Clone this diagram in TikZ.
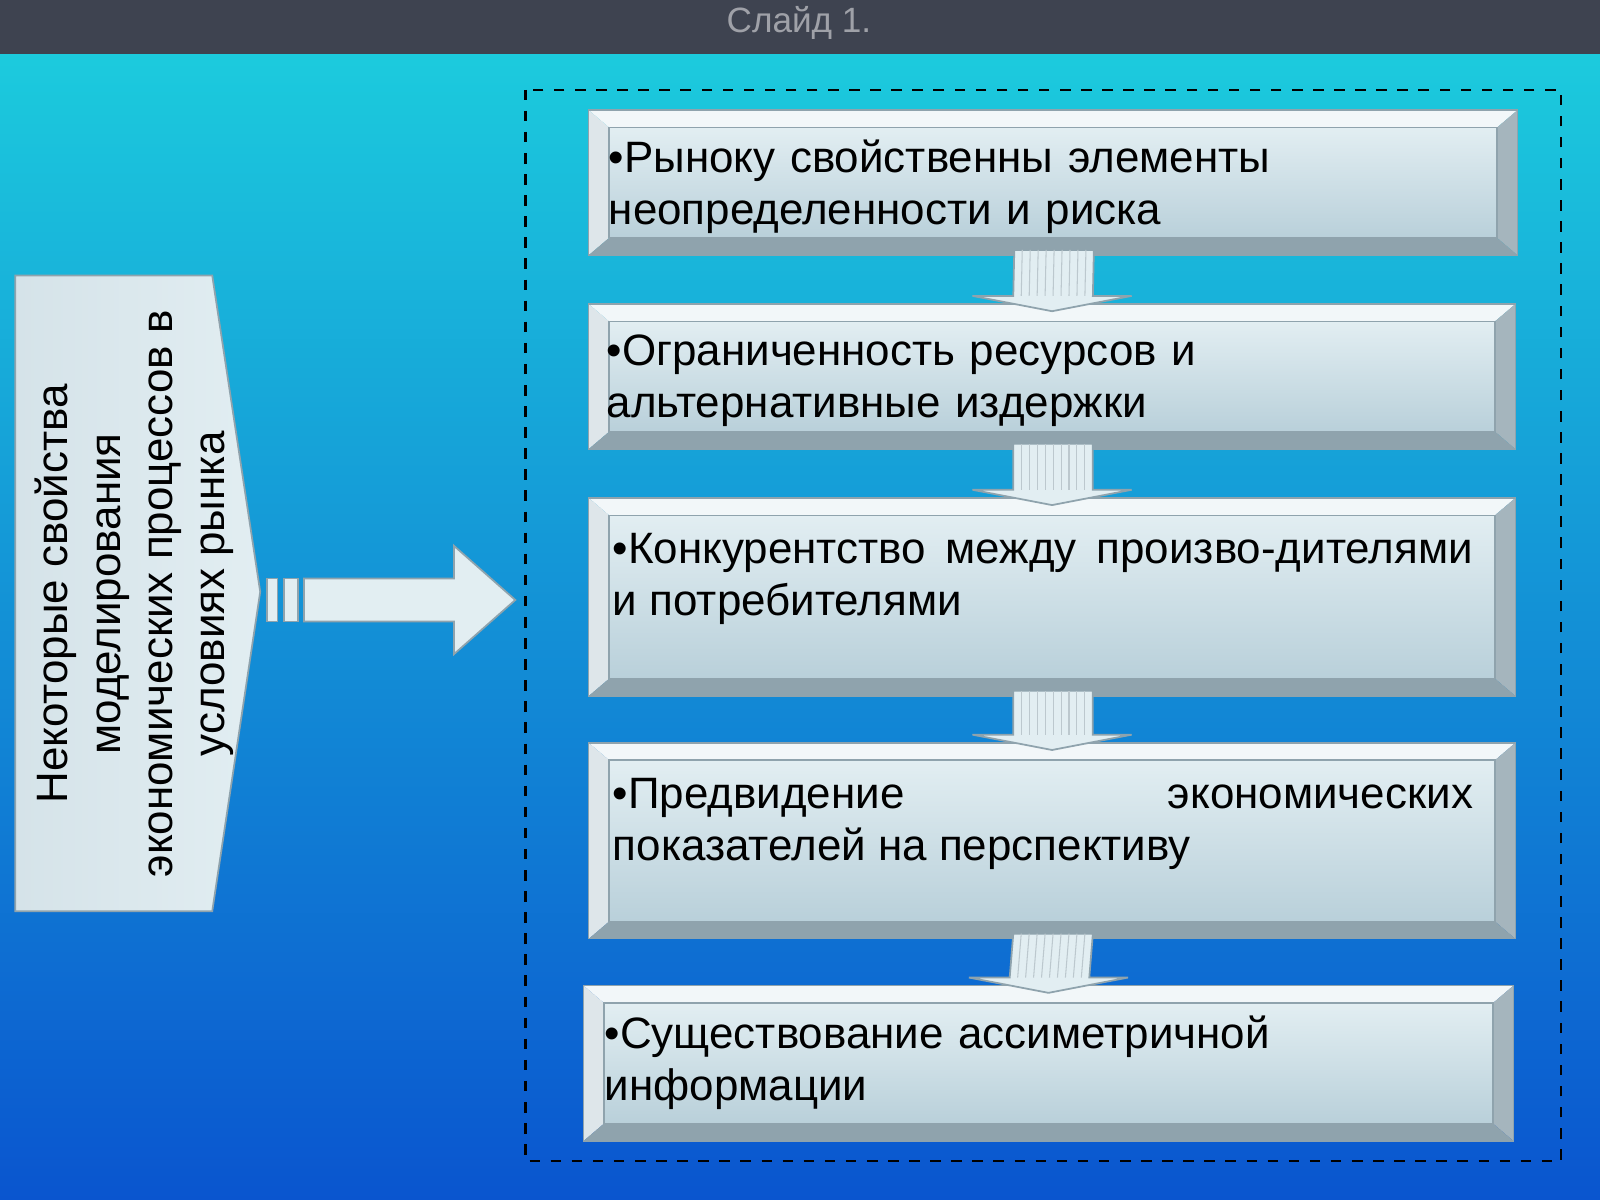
\documentclass[tikz,border=0pt]{standalone}
\usepackage{fontspec}
\setmainfont{Liberation Sans}
\usetikzlibrary{calc}

\definecolor{barcol}{HTML}{3E4350}
\definecolor{topcol}{HTML}{1CCBDD}
\definecolor{botcol}{HTML}{0A55CF}
\definecolor{facecol}{HTML}{E2EEF2}
\definecolor{facedark}{HTML}{B9D0DA}
\definecolor{rimlight}{HTML}{F2F7F9}
\definecolor{rimdark}{HTML}{8FA3AD}

\tikzset{
	boxtext/.style={text width=8.6cm, align=left, font=\fontsize{12.5}{14.9}\selectfont, inner sep=0pt},
	justtext/.style={boxtext, align=justify},
	downarr/.style={fill=facecol, draw=rimdark, line width=0.5pt},
}

% bevelled box: #1 name, #2 left x, #3 top y, #4 right x, #5 bottom y
\newcommand{\bevbox}[5]{
	\coordinate (#1-nw) at (#2,#3);
	\coordinate (#1-se) at (#4,#5);
	\coordinate (#1-inw) at ($(#2,#3)+(0.2,0.17)$);
	\coordinate (#1-ise) at ($(#4,#5)+(-0.2,-0.17)$);
	\fill[rimlight] (#1-nw) -- (#4,#3) -- (#1-ise |- #1-inw) -- (#1-inw) -- cycle;
	\fill[rimlight!80!rimdark] (#1-nw) -- (#1-inw) -- (#1-inw |- #1-ise) -- (#2,#5) -- cycle;
	\fill[rimdark!80!white] (#4,#3) -- (#1-se) -- (#1-ise) -- (#1-ise |- #1-inw) -- cycle;
	\fill[rimdark] (#2,#5) -- (#1-se) -- (#1-ise) -- (#1-inw |- #1-ise) -- cycle;
	\shade[top color=facecol, bottom color=facedark] (#1-inw) rectangle (#1-ise);
	\draw[rimdark, line width=0.4pt] (#1-nw) rectangle (#1-se) (#1-inw) rectangle (#1-ise);
	\coordinate (#1) at ($(#1-nw)!0.5!(#1-se)$);
	\coordinate (#1-s) at (#1 |- #1-se);
	\coordinate (#1-n) at (#1 |- #1-nw);
}

% down arrow from box #1 to box #2
\newcommand{\flowarr}[2]{
	\draw[downarr] ($(#1-s)+(-0.38,-0.05)$) -- ($(#1-s)+(0.4,-0.05)$)
		-- ($(#2-n)+(0.4,-0.08)$) -- ($(#2-n)+(0.78,-0.08)$)
		-- ($(#2-n)+(0,0.07)$) -- ($(#2-n)+(-0.78,-0.08)$)
		-- ($(#2-n)+(-0.38,-0.08)$) -- cycle;
	\foreach \i in {1,...,9}
		\draw[rimdark!60, line width=0.3pt] ($(#1-s)+(-0.38+0.078*\i,-0.05)$) -- ($(#2-n)+(-0.38+0.078*\i,-0.08)$);
}

\begin{document}
\begin{tikzpicture}[x=1.0204cm, y=-1.0204cm]
	\useasboundingbox (0,0) rectangle (15.68,11.76);

	% background
	\shade[top color=topcol, bottom color=botcol] (0,0.5) rectangle (15.68,11.76);
	\fill[barcol] (0,0) rectangle (15.68,0.53);
	\node[text=barcol!50!white, font=\fontsize{10}{12}\selectfont] (title) at (7.83,0.23) {Слайд 1.};

	% dashed frame
	\draw[dashed, line width=0.6pt] (5.15,0.88) rectangle (15.3,11.38);

	% boxes
	\bevbox{b1}{5.77}{1.08}{14.87}{2.50}
	\bevbox{b2}{5.77}{2.98}{14.85}{4.40}
	\bevbox{b3}{5.77}{4.88}{14.85}{6.82}
	\bevbox{b4}{5.77}{7.28}{14.85}{9.20}
	\bevbox{b5}{5.72}{9.66}{14.83}{11.18}

	\flowarr{b1}{b2}
	\flowarr{b2}{b3}
	\flowarr{b3}{b4}
	\flowarr{b4}{b5}

	\node[boxtext, anchor=north west] (t1) at (5.96,1.36) {•Рыноку свойственны элементы неопределенности и риска};
	\node[boxtext, anchor=north west] (t2) at (5.94,3.27) {•Ограниченность ресурсов и\\альтернативные издержки};
	\node[justtext, anchor=north west] (t3) at (6.00,5.22) {•Конкурентство между произво-дителями и потребителями};
	\node[justtext, anchor=north west] (t4) at (6.00,7.62) {•Предвидение экономических показателей на перспективу};
	\node[boxtext, anchor=north west] (t5) at (5.92,9.95) {•Существование ассиметричной информации};

	% left pentagon
	\shade[left color=facedark!60!white, right color=facecol, draw=rimdark, line width=0.5pt]
		(0.15,2.70) -- (2.08,2.70) -- (2.55,5.80) -- (2.08,8.93) -- (0.15,8.93) -- cycle;
	\node[rotate=90, align=center, font=\fontsize{12.5}{14.9}\selectfont] (side) at (1.32,5.82)
		{Некоторые свойства\\моделирования\\экономических процессов в\\условиях рынка};

	% right arrow
	\coordinate (a-start) at (2.98,5.88);
	\coordinate (a-tip) at (5.05,5.88);
	\draw[fill=facecol, draw=rimdark, line width=0.5pt]
		($(a-start)+(0,-0.21)$) -- ($(a-tip)+(-0.6,-0.21)$) -- ($(a-tip)+(-0.6,-0.53)$)
		-- (a-tip) -- ($(a-tip)+(-0.6,0.53)$) -- ($(a-tip)+(-0.6,0.21)$)
		-- ($(a-start)+(0,0.21)$) -- cycle;
	\draw[fill=facecol, draw=rimdark, line width=0.5pt] (2.62,5.67) rectangle (2.72,6.09);
	\draw[fill=facecol, draw=rimdark, line width=0.5pt] (2.78,5.67) rectangle (2.92,6.09);
\end{tikzpicture}
\end{document}
